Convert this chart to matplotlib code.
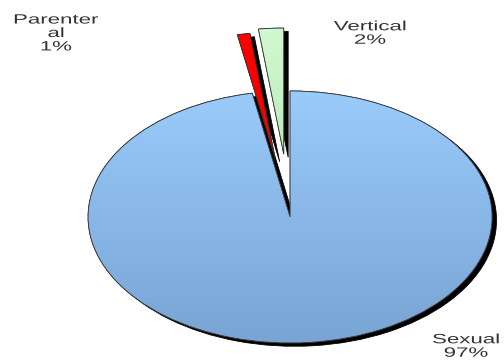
import numpy as np
import matplotlib
matplotlib.use("Agg")
import matplotlib.pyplot as plt
from matplotlib.colors import LinearSegmentedColormap
from matplotlib.patches import PathPatch
from matplotlib.patheffects import AbstractPathEffect
from matplotlib.transforms import Affine2D

# Transmission routes (share of cases, %)
categories = ["Sexual", "Parenteral", "Vertical"]
label_texts = ["Sexual\n97%", "Parenter\nal\n1%", "Vertical\n2%"]
values = [97, 1, 2]
explode = [0.0, 0.47, 0.5]

top_colors = ["#9ACCFC", "#FF0000", "#D2FAD2"]
bottom_colors = ["#78A3D3", "#E80000", "#A9D9A9"]


class HStretch(AbstractPathEffect):
    """Widen each drawn text line horizontally about its own centre."""

    def __init__(self, sx):
        super().__init__()
        self.sx = sx

    def draw_path(self, renderer, gc, tpath, affine, rgbFace=None):
        ext = affine.transform_path(tpath).get_extents()
        cx = 0.5 * (ext.x0 + ext.x1)
        t = affine + Affine2D().translate(-cx, 0).scale(self.sx, 1.0).translate(cx, 0)
        renderer.draw_path(gc, tpath, t, rgbFace)


fig = plt.figure(figsize=(7.0, 5.0), dpi=72)
ax = fig.add_axes([0, 0, 1, 1])
ax.set_axis_off()

wedges, _ = ax.pie(
    values,
    explode=explode,
    startangle=90,
    counterclock=False,
    colors=top_colors,
    shadow={"ox": 0.022, "oy": -0.026, "shade": 1.0, "alpha": 1.0},
    wedgeprops={"edgecolor": "#303030", "linewidth": 0.8},
)

# Stretched, elliptical look: fixed limits with free aspect
ax.set_aspect("auto")

# Vertical gradient fill inside each wedge
for w, c0, c1, e in zip(wedges, top_colors, bottom_colors, explode):
    cmap = LinearSegmentedColormap.from_list("g", [c1, c0])
    grad = np.linspace(0, 1, 256).reshape(-1, 1)
    im = ax.imshow(grad, cmap=cmap, origin="lower", aspect="auto",
                   extent=[-1.1, 1.1, -1.05 + e, 1.05 + e], zorder=w.get_zorder() + 0.01)
    im.set_clip_path(w)
    edge = PathPatch(w.get_path(), transform=w.get_transform(),
                     facecolor="none", edgecolor="#303030",
                     linewidth=0.8, zorder=w.get_zorder() + 0.02)
    ax.add_patch(edge)

ax.set_xlim(-1.436, 1.059)
ax.set_ylim(-1.135, 1.722)

label_pos = [(466, 346), (56, 33), (370, 33)]
W, H = 504, 360
for txt, (px, py) in zip(label_texts, label_pos):
    fig.text(px / W, 1 - py / H, txt, ha="center", va="center",
             family="Liberation Sans", fontsize=13.5, color="#333333",
             linespacing=0.95, path_effects=[HStretch(1.65)])

fig.savefig("out.png", dpi=72)
